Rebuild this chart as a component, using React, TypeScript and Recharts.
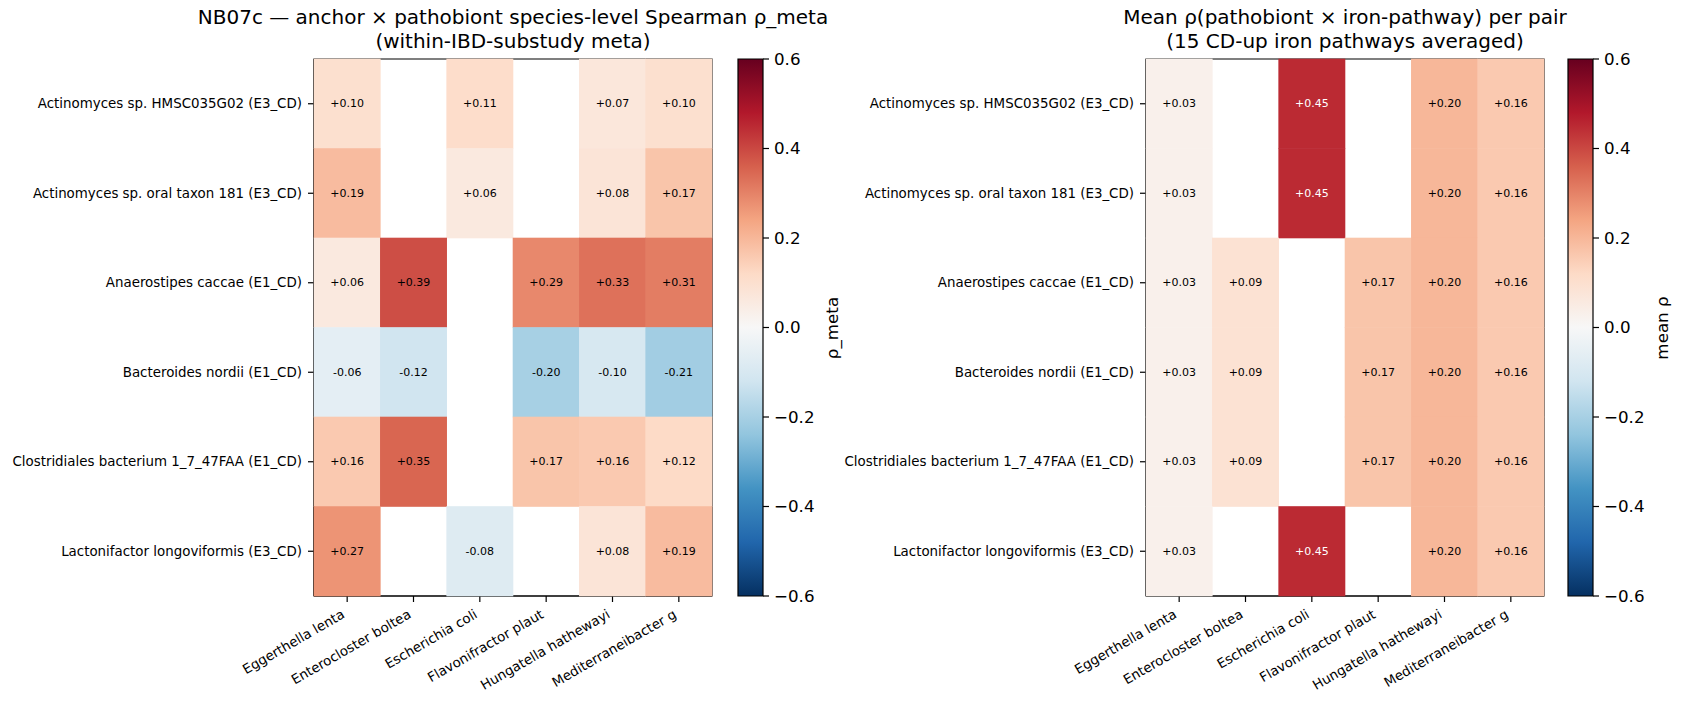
import { ScatterChart, Scatter, XAxis, YAxis, ReferenceArea, BarChart, Bar } from "recharts"

// rows: anchor species, columns: pathobiont species
const ANCHORS = [
  "Actinomyces sp. HMSC035G02 (E3_CD)",
  "Actinomyces sp. oral taxon 181 (E3_CD)",
  "Anaerostipes caccae (E1_CD)",
  "Bacteroides nordii (E1_CD)",
  "Clostridiales bacterium 1_7_47FAA (E1_CD)",
  "Lactonifactor longoviformis (E3_CD)",
]
const PATHOBIONTS = [
  "Eggerthella lenta",
  "Enterocloster boltea",
  "Escherichia coli",
  "Flavonifractor plaut",
  "Hungatella hathewayi",
  "Mediterraneibacter g",
]

// species-level rho_meta, null = pair not tested
const META_HMSC035G02 = [0.1, null, 0.11, null, 0.07, 0.1]
const META_ORAL_181 = [0.19, null, 0.06, null, 0.08, 0.17]
const META_ANAEROSTIPES = [0.06, 0.39, null, 0.29, 0.33, 0.31]
const META_BACTEROIDES = [-0.06, -0.12, null, -0.2, -0.1, -0.21]
const META_CLOSTRIDIALES = [0.16, 0.35, null, 0.17, 0.16, 0.12]
const META_LACTONIFACTOR = [0.27, null, -0.08, null, 0.08, 0.19]

// mean rho over the 15 CD-up iron pathways
const IRON_HMSC035G02 = [0.03, null, 0.45, null, 0.2, 0.16]
const IRON_ORAL_181 = [0.03, null, 0.45, null, 0.2, 0.16]
const IRON_ANAEROSTIPES = [0.03, 0.09, null, 0.17, 0.2, 0.16]
const IRON_BACTEROIDES = [0.03, 0.09, null, 0.17, 0.2, 0.16]
const IRON_CLOSTRIDIALES = [0.03, 0.09, null, 0.17, 0.2, 0.16]
const IRON_LACTONIFACTOR = [0.03, null, 0.45, null, 0.2, 0.16]

const CBAR_TICKS = [-0.6, -0.4, -0.2, 0, 0.2, 0.4, 0.6]

const RHO_META = [META_HMSC035G02, META_ORAL_181, META_ANAEROSTIPES, META_BACTEROIDES, META_CLOSTRIDIALES, META_LACTONIFACTOR]
const MEAN_IRON = [IRON_HMSC035G02, IRON_ORAL_181, IRON_ANAEROSTIPES, IRON_BACTEROIDES, IRON_CLOSTRIDIALES, IRON_LACTONIFACTOR]

// RdBu_r
const RDBU_R = ["#053061", "#2166ac", "#4393c3", "#92c5de", "#d1e5f0", "#f7f7f7", "#fddbc7", "#f4a582", "#d6604d", "#b2182b", "#67001f"]
const VMIN = -0.6
const VMAX = 0.6

const FONT = "'DejaVu Sans', sans-serif"
const PLOT_TOP = 59
const PLOT_H = 537
const PLOT_W = 398
const CHART_H = 704
const YAXIS_W = 300
const XAXIS_H = 100
const TICK_FONT = 13.4

function hex(c: string) {
  return [1, 3, 5].map((i) => parseInt(c.slice(i, i + 2), 16))
}

function cmap(v: number) {
  const t = Math.min(1, Math.max(0, (v - VMIN) / (VMAX - VMIN))) * (RDBU_R.length - 1)
  const i = Math.min(RDBU_R.length - 2, Math.floor(t))
  const f = t - i
  const a = hex(RDBU_R[i])
  const b = hex(RDBU_R[i + 1])
  const c = a.map((x, k) => Math.round(x + (b[k] - x) * f))
  return `rgb(${c[0]},${c[1]},${c[2]})`
}

const fmtCell = (v: number) => (v >= 0 ? `+${v.toFixed(2)}` : v.toFixed(2))
const fmtCbar = (v: number) => (v < 0 ? `\u2212${Math.abs(v).toFixed(1)}` : v.toFixed(1))

const axisStroke = { stroke: "#000", strokeWidth: 1.2 }

function XTick({ x, y, payload }: any) {
  return (
    <g transform={`translate(${x - 1.5},${y + 9})`}>
      <text transform="rotate(-30)" textAnchor="end" fontSize={TICK_FONT} fontFamily={FONT} fill="#000">
        {PATHOBIONTS[payload.value]}
      </text>
    </g>
  )
}

function YTick({ x, y, payload }: any) {
  return (
    <text x={x} y={y} textAnchor="end" dominantBaseline="central" fontSize={TICK_FONT} fontFamily={FONT} fill="#000">
      {ANCHORS[payload.value]}
    </text>
  )
}

function Cell(props: any) {
  const { cx, cy, payload } = props
  const w = PLOT_W / PATHOBIONTS.length
  const h = PLOT_H / ANCHORS.length
  return (
    <g>
      <rect x={cx - w / 2 - 0.3} y={cy - h / 2 - 0.3} width={w + 0.6} height={h + 0.6} fill={cmap(payload.v)} />
      <text
        x={cx}
        y={cy}
        textAnchor="middle"
        dominantBaseline="central"
        fontSize={11}
        fontFamily={FONT}
        fill={Math.abs(payload.v) > 0.4 ? "#fff" : "#000"}
      >
        {fmtCell(payload.v)}
      </text>
    </g>
  )
}

function Heatmap({ plotLeft, matrix, title }: { plotLeft: number; matrix: (number | null)[][]; title: string[] }) {
  const cells = matrix.flatMap((row, y) =>
    row.map((v, x) => (v === null ? null : { x, y, v })).filter((c) => c !== null)
  )
  const idx = PATHOBIONTS.map((_, i) => i)
  const left = plotLeft - YAXIS_W - 14
  const width = YAXIS_W + 14 + PLOT_W + 18
  return (
    <>
      <div
        style={{
          position: "absolute",
          left: plotLeft - 200,
          width: PLOT_W + 400,
          top: 5,
          textAlign: "center",
          fontSize: 20,
          lineHeight: "24px",
          fontFamily: FONT,
          color: "#000",
        }}
      >
        {title.map((t) => (
          <div key={t}>{t}</div>
        ))}
      </div>
      <div style={{ position: "absolute", left, top: 0 }}>
        <ScatterChart
          width={width}
          height={CHART_H}
          margin={{ top: PLOT_TOP, left: 14, right: 18, bottom: CHART_H - PLOT_TOP - PLOT_H - XAXIS_H }}
        >
          <XAxis
            dataKey="x"
            type="number"
            domain={[-0.5, PATHOBIONTS.length - 0.5]}
            ticks={idx}
            height={XAXIS_H}
            tick={<XTick />}
            tickSize={6}
            tickMargin={6}
            tickLine={axisStroke}
            axisLine={axisStroke}
            interval={0}
          />
          <YAxis
            dataKey="y"
            type="number"
            domain={[-0.5, ANCHORS.length - 0.5]}
            reversed
            ticks={ANCHORS.map((_, i) => i)}
            width={YAXIS_W}
            tick={<YTick />}
            tickSize={6}
            tickMargin={6}
            tickLine={axisStroke}
            axisLine={axisStroke}
            interval={0}
          />
          <Scatter data={cells} shape={<Cell />} isAnimationActive={false} />
          <ReferenceArea
            x1={-0.5}
            x2={PATHOBIONTS.length - 0.5}
            y1={-0.5}
            y2={ANCHORS.length - 0.5}
            fill="none"
            fillOpacity={0}
            stroke="#000"
            strokeWidth={1.2}
          />
        </ScatterChart>
      </div>
    </>
  )
}

function ColorBar({ barLeft, id, label }: { barLeft: number; id: string; label: string }) {
  const data = [{ name: id, span: [VMIN, VMAX] }]
  return (
    <>
      <div style={{ position: "absolute", left: barLeft - 8, top: 0 }}>
        <BarChart
          width={8 + 25 + 60}
          height={CHART_H}
          data={data}
          margin={{ top: PLOT_TOP, left: 8, right: 0, bottom: CHART_H - PLOT_TOP - PLOT_H }}
          barCategoryGap={0}
        >
          <defs>
            <linearGradient id={id} x1="0" y1="1" x2="0" y2="0">
              {RDBU_R.map((c, i) => (
                <stop key={i} offset={i / (RDBU_R.length - 1)} stopColor={c} />
              ))}
            </linearGradient>
          </defs>
          <XAxis dataKey="name" hide />
          <YAxis
            orientation="right"
            type="number"
            domain={[VMIN, VMAX]}
            ticks={CBAR_TICKS}
            tickFormatter={fmtCbar}
            width={60}
            tickSize={6}
            tickMargin={5}
            tickLine={axisStroke}
            axisLine={false}
            tick={{ fill: "#000", fontSize: 16.7, fontFamily: FONT }}
            interval={0}
          />
          <Bar dataKey="span" fill={`url(#${id})`} stroke="#000" strokeWidth={1.2} isAnimationActive={false} />
        </BarChart>
      </div>
      <div
        style={{
          position: "absolute",
          left: barLeft + 94 - 100,
          top: PLOT_TOP + PLOT_H / 2 - 12,
          width: 200,
          height: 24,
          lineHeight: "24px",
          textAlign: "center",
          fontSize: 16.7,
          fontFamily: FONT,
          color: "#000",
          transform: "rotate(-90deg)",
        }}
      >
        {label}
      </div>
    </>
  )
}

export default function App() {
  return (
    <div style={{ position: "relative", width: 1682, height: 704, background: "#fff", overflow: "hidden" }}>
      <style>{"body{margin:0}"}</style>
      <Heatmap
        plotLeft={314}
        matrix={RHO_META}
        title={["NB07c \u2014 anchor \u00d7 pathobiont species-level Spearman \u03c1_meta", "(within-IBD-substudy meta)"]}
      />
      <ColorBar barLeft={738} id="cbar-meta" label={"\u03c1_meta"} />
      <Heatmap
        plotLeft={1146}
        matrix={MEAN_IRON}
        title={["Mean \u03c1(pathobiont \u00d7 iron-pathway) per pair", "(15 CD-up iron pathways averaged)"]}
      />
      <ColorBar barLeft={1568} id="cbar-iron" label={"mean \u03c1"} />
    </div>
  )
}
